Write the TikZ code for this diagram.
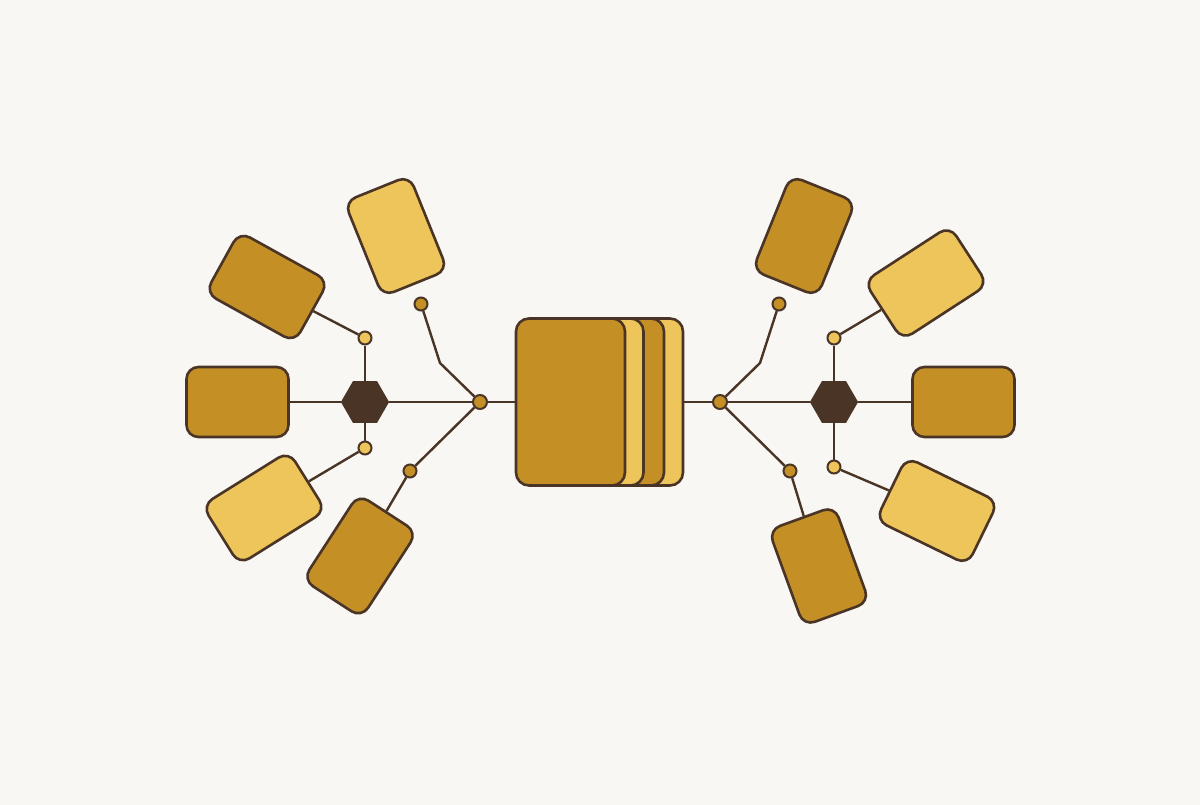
\documentclass[tikz,border=0pt]{standalone}
\usetikzlibrary{shapes.geometric}
\definecolor{bg}{HTML}{F9F7F3}
\definecolor{gdark}{HTML}{C49026}
\definecolor{glight}{HTML}{EEC55A}
\definecolor{brown}{HTML}{4A3426}
\tikzset{
  card/.style={draw=brown, line width=2.6bp, rounded corners=12bp, minimum width=102bp, minimum height=70bp, inner sep=0pt},
  pcard/.style={card, minimum width=70bp, minimum height=102bp},
  scard/.style={draw=brown, line width=2.6bp, rounded corners=13bp, minimum width=109bp, minimum height=167bp, inner sep=0pt},
  dot/.style={circle, draw=brown, line width=2bp, minimum size=13bp, inner sep=0pt},
  jdot/.style={dot, fill=gdark, minimum size=14bp},
  hexa/.style={regular polygon, regular polygon sides=6, fill=brown, draw=brown, line width=1bp, minimum size=47bp, inner sep=0pt},
  conn/.style={draw=brown, line width=2.4bp}
}
\begin{document}
\begin{tikzpicture}[x=1bp,y=-1bp]
\fill[bg] (0,0) rectangle (1200,805);
\useasboundingbox (0,0) rectangle (1200,805);
% center stack
\node[scard, fill=glight] (S4) at (628.5,402) {};
\node[scard, fill=gdark] (S3) at (609.5,402) {};
\node[scard, fill=glight] (S2) at (589,402) {};
\node[scard, fill=gdark] (S1) at (570.5,402) {};
% left
\node[hexa] (hexL) at (365,402) {};
\node[jdot] (jL) at (480,402) {};
\node[dot, fill=glight] (hLt) at (365,338) {};
\node[dot, fill=glight] (hLb) at (365,448) {};
\node[dot, fill=gdark] (cL4) at (421,304) {};
\node[dot, fill=gdark] (cL5) at (410,471) {};
\coordinate (bL4) at (440,363);
\node[card, fill=gdark] (L1) at (237.5,402) {};
\node[card, fill=gdark, rotate=-29] (L2) at (267,287) {};
\node[card, fill=glight, rotate=32] (L3) at (264,508) {};
\node[pcard, fill=glight, rotate=22] (L4) at (396,236) {};
\node[pcard, fill=gdark, rotate=-33] (L5) at (360,556) {};
% right
\node[hexa] (hexR) at (834,402) {};
\node[jdot] (jR) at (720,402) {};
\node[dot, fill=glight] (hRt) at (834,338) {};
\node[dot, fill=glight] (hRb) at (834,467) {};
\node[dot, fill=gdark] (cR4) at (779,304) {};
\node[dot, fill=gdark] (cR5) at (790,471) {};
\coordinate (bR4) at (760,363);
\node[card, fill=gdark] (R1) at (963.5,402) {};
\node[card, fill=glight, rotate=33] (R2) at (926,283) {};
\node[card, fill=glight, rotate=-26] (R3) at (937,511) {};
\node[pcard, fill=gdark, rotate=-22] (R4) at (804,236) {};
\node[pcard, fill=gdark, rotate=20] (R5) at (819,566) {};
% connectors left
\draw[conn] (L1) -- (hexL) -- (jL);
\draw[conn] (hexL) -- (hLt);
\draw[conn] (hexL) -- (hLb);
\draw[conn] (hLt) -- (L2);
\draw[conn] (hLb) -- (L3);
\draw[conn] (cL4) -- (bL4) -- (jL);
\draw[conn] (L5) -- (cL5) -- (jL);
\draw[conn] (jL) -- (S1);
% connectors right
\draw[conn] (S4) -- (jR);
\draw[conn] (jR) -- (hexR) -- (R1);
\draw[conn] (hexR) -- (hRt);
\draw[conn] (hexR) -- (hRb);
\draw[conn] (hRt) -- (R2);
\draw[conn] (hRb) -- (R3);
\draw[conn] (cR4) -- (bR4) -- (jR);
\draw[conn] (jR) -- (cR5) -- (R5);
\end{tikzpicture}
\end{document}
